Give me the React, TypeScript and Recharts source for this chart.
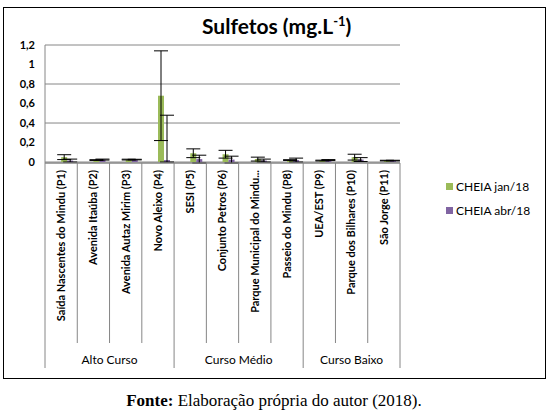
import { BarChart, Bar, XAxis, YAxis, CartesianGrid, ErrorBar } from "recharts";

const categories = [
  "Saída Nascentes do Mindu (P1)",
  "Avenida Itaúba (P2)",
  "Avenida Autaz Mirim (P3)",
  "Novo Aleixo (P4)",
  "SESI (P5)",
  "Conjunto Petros (P6)",
  "Parque Municipal do Mindu...",
  "Passeio do Mindu (P8)",
  "UEA/EST (P9)",
  "Parque dos Bilhares (P10)",
  "São Jorge (P11)",
];

const groupLabels = ["Alto Curso", "Curso Médio", "Curso Baixo"];
const groupSizes = [4, 4, 3];

// the sheet has two empty series before these two (they still take a slot in each group)
const emptyA: (number | null)[] = [null, null, null, null, null, null, null, null, null, null, null];
const emptyB: (number | null)[] = [null, null, null, null, null, null, null, null, null, null, null];

const cheiaJan = [0.05, 0.02, 0.025, 0.68, 0.09, 0.08, 0.03, 0.02, 0.015, 0.05, 0.015];
const cheiaJanErr = [0.025, 0.004, 0.004, 0.46, 0.045, 0.04, 0.02, 0.004, 0.004, 0.03, 0.003];
const cheiaAbr = [0.015, 0.025, 0.025, 0.02, 0.03, 0.025, 0.015, 0.02, 0.02, 0.025, 0.015];
const cheiaAbrErr: (number | number[])[] = [0.015, 0.005, 0.003, [0.02, 0.46], 0.04, 0.035, 0.015, 0.02, 0.005, 0.02, 0.003];

const yTicks = [0, 0.2, 0.4, 0.6, 0.8, 1, 1.2];

const legendItems = [
  { name: "CHEIA jan/18", color: "#9BBB59" },
  { name: "CHEIA abr/18", color: "#8064A2" },
];

const data = categories.map((name, i) => ({
  name,
  a: emptyA[i],
  b: emptyB[i],
  jan: cheiaJan[i],
  janErr: cheiaJanErr[i],
  abr: cheiaAbr[i],
  abrErr: cheiaAbrErr[i],
}));

const groupStarts = groupSizes.map((_, g) => groupSizes.slice(0, g).reduce((s, v) => s + v, 0));

const FONT = "Lato, 'Open Sans', sans-serif";
const GRID = "#868686";

function CategoryTick(props: any) {
  const { x, y, payload, index } = props;
  const half = payload?.offset ?? 16;
  const g = groupStarts.indexOf(index);
  const isLast = index === categories.length - 1;
  return (
    <g>
      <line x1={x - half} y1={y} x2={x - half} y2={y + (g >= 0 ? 205 : 180)} stroke={GRID} />
      {isLast && <line x1={x + half} y1={y} x2={x + half} y2={y + 205} stroke={GRID} />}
      <text
        x={x}
        y={y + 7}
        transform={`rotate(-90, ${x}, ${y + 7})`}
        textAnchor="end"
        dy="0.35em"
        fontSize={11}
        fontWeight="bold"
        fontFamily={FONT}
        fill="#000"
      >
        {payload.value}
      </text>
      {g >= 0 && (
        <text
          x={x - half + groupSizes[g] * half}
          y={y + 196}
          textAnchor="middle"
          dominantBaseline="central"
          fontSize={12}
          fontFamily={FONT}
          fill="#000"
        >
          {groupLabels[g]}
        </text>
      )}
    </g>
  );
}

export default function App() {
  return (
    <div style={{ position: "absolute", left: 0, top: 0, width: 550, height: 420, background: "#fff" }}>
      <div
        style={{
          position: "absolute",
          left: 3,
          top: 7,
          width: 543,
          height: 372,
          border: "1px solid #000",
          boxSizing: "border-box",
        }}
      >
        <BarChart
          width={541}
          height={370}
          data={data}
          margin={{ top: 37, right: 145, bottom: 10, left: 11 }}
          barCategoryGap="13%"
          barGap={0}
        >
          <CartesianGrid horizontal vertical={false} stroke={GRID} />
          <XAxis
            dataKey="name"
            interval={0}
            tickLine={false}
            tickSize={0}
            tickMargin={0}
            axisLine={{ stroke: GRID }}
            height={205}
            tick={<CategoryTick />}
          />
          <YAxis
            width={30}
            domain={[0, 1.2]}
            ticks={yTicks}
            tickLine={false}
            tickSize={0}
            tickMargin={10}
            axisLine={{ stroke: GRID }}
            tickFormatter={(v) => String(v).replace(".", ",")}
            tick={{ fontSize: 11, fontWeight: "bold", fontFamily: FONT, fill: "#000" }}
          />
          <Bar dataKey="a" fill="#4F81BD" isAnimationActive={false} />
          <Bar dataKey="b" fill="#C0504D" isAnimationActive={false} />
          <Bar dataKey="jan" fill="#9BBB59" isAnimationActive={false}>
            <ErrorBar dataKey="janErr" width={7} stroke="#000" strokeWidth={1} isAnimationActive={false} />
          </Bar>
          <Bar dataKey="abr" fill="#8064A2" isAnimationActive={false}>
            <ErrorBar dataKey="abrErr" width={7} stroke="#000" strokeWidth={1} isAnimationActive={false} />
          </Bar>
        </BarChart>
        <div
          style={{
            position: "absolute",
            left: 198,
            top: 5,
            fontFamily: FONT,
            fontWeight: "bold",
            fontSize: 21,
            whiteSpace: "nowrap",
          }}
        >
          Sulfetos (mg.L<sup style={{ fontSize: 13 }}>-1</sup>)
        </div>
        <div style={{ position: "absolute", left: 442, top: 166, fontFamily: FONT, fontSize: 12 }}>
          {legendItems.map((it) => (
            <div key={it.name} style={{ display: "flex", alignItems: "center", height: 24 }}>
              <span style={{ width: 7, height: 7, background: it.color, marginRight: 3 }} />
              {it.name}
            </div>
          ))}
        </div>
      </div>
      <div
        style={{
          position: "absolute",
          left: 0,
          top: 391,
          width: 548,
          textAlign: "center",
          fontFamily: "'Liberation Serif', 'Times New Roman', serif",
          fontSize: 17,
        }}
      >
        <b>Fonte:</b> Elaboração própria do autor (2018).
      </div>
    </div>
  );
}
